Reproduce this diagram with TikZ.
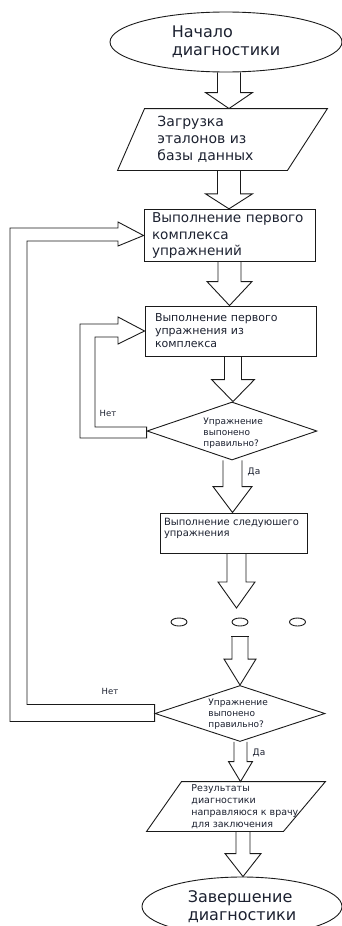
\documentclass[tikz,border=0pt]{standalone}
\usepackage{fontspec}
\setmainfont{DejaVu Sans}
\usepackage{tikz}
\usetikzlibrary{shapes.geometric,calc}
\definecolor{FlowInk}{HTML}{1C2130}
\definecolor{FlowLine}{HTML}{1A1A1A}

\newcommand{\fatdown}[6]{%
  \draw let \p1=(#1,0 |- #2), \p2=(#1,0 |- #3) in
    (\x1-#4pt,\y1) -- (\x1-#4pt,\y2+#6pt) -- (\x1-#5pt,\y2+#6pt) -- (\p2)
    -- (\x1+#5pt,\y2+#6pt) -- (\x1+#4pt,\y2+#6pt) -- (\x1+#4pt,\y1);}

\begin{document}
\begin{tikzpicture}[x=1pt,y=-1pt,line width=0.9pt,draw=FlowLine,
  every node/.style={text=FlowInk},
  term/.style={draw=FlowLine,ellipse,inner sep=0pt,align=left},
  proc/.style={draw=FlowLine,rectangle,align=left},
  io/.style={rectangle,inner sep=0pt},
  decision/.style={draw=FlowLine,diamond,inner sep=0pt},
  txt/.style={inner sep=0pt,align=left,anchor=west},
  dot/.style={draw=FlowLine,ellipse,inner sep=0pt,minimum width=16,minimum height=8}]
  \useasboundingbox (0,0) rectangle (342,926);

  \node[term,minimum width=232,minimum height=60,font=\fontsize{16}{18}\selectfont]
    (start) at (226,42) {Начало\\диагностики};
  \node[io,minimum width=209,minimum height=61] (load) at (222.5,139.5) {};
  \draw (load.south west) -- ([xshift=27]load.north west) -- (load.north east)
    -- ([xshift=-40]load.south east) -- cycle;
  \node[txt,font=\fontsize{14}{17}\selectfont] (load-t) at (157,139.5)
    {Загрузка\\эталонов из\\базы данных};
  \node[proc,minimum width=171,minimum height=51,text width=155,inner xsep=8,
    font=\fontsize{13.6}{16.5}\selectfont] (ex1) at (229.5,235.5)
    {Выполнение первого\\комплекса\\упражнений};
  \node[proc,minimum width=171,minimum height=50,text width=151,inner xsep=10,
    font=\fontsize{11}{13}\selectfont] (ex2) at (230.5,331)
    {Выполнение первого\\упражнения из\\комплекса};
  \node[decision,minimum width=170,minimum height=58] (chk1) at (232,431) {};
  \node[txt,font=\fontsize{9}{11}\selectfont] (chk1-t) at (203,433)
    {Упражнение\\выпонено\\правильно?};
  \node[proc,minimum width=147,minimum height=40,text width=139,inner xsep=4,
    font=\fontsize{10}{11}\selectfont] (ex3) at (233.5,533)
    {Выполнение следуюшего\\упражнения\\~};
  \node[dot] (d1) at (179,622) {};
  \node[dot] (d2) at (240,622) {};
  \node[dot] (d3) at (297.5,622) {};
  \coordinate (gapA) at (236.5,608);
  \coordinate (gapB) at (239,636);
  \node[decision,minimum width=170,minimum height=56] (chk2) at (240,713.5) {};
  \node[txt,font=\fontsize{9}{11}\selectfont] (chk2-t) at (208,714)
    {Упражнение\\выпонено\\правильно?};
  \node[io,minimum width=178,minimum height=49] (res) at (236,806.5) {};
  \draw (res.south west) -- ([xshift=35]res.north west) -- (res.north east)
    -- ([xshift=-42]res.south east) -- cycle;
  \node[txt,font=\fontsize{9.5}{12}\selectfont] (res-t) at (191,807)
    {Результаты\\диагностики\\направляюся к врачу\\для заключения};
  \node[term,minimum width=200,minimum height=59,font=\fontsize{16}{18}\selectfont]
    (finish) at (242,906.5) {Завершение\\диагностики};

  \fatdown{229}{start.south}{load.north}{11.5}{23.5}{16}
  \fatdown{229}{load.south}{ex1.north}{11.5}{23.5}{15}
  \fatdown{229.5}{ex1.south}{ex2.north}{11.5}{22.5}{24}
  \fatdown{233}{ex2.south}{chk1.north}{8.5}{21.5}{22}
  \fatdown{232.5}{chk1.south}{ex3.north}{9.5}{19.5}{26}
  \fatdown{236.5}{ex3.south}{gapA}{9.5}{18.5}{26}
  \fatdown{240}{gapB}{chk2.north}{8}{16}{26}
  \draw (231,636) -- (249,636);
  \fatdown{240.5}{chk2.south}{res.north}{6.5}{12}{20}
  \fatdown{243}{res.south}{finish.north}{7}{18}{23}

  \draw (ex1.west) -- (118,222) -- (118,228) -- (10,228)
    |- ([yshift=-8]chk2.west) -- ([yshift=9]chk2.west) -| (27,241)
    -- (118,241) -- (118,246) -- cycle;
  \draw (ex2.west) -- (118,317) -- (118,324) -- (80,324)
    |- ([yshift=-7]chk1.west) -- ([yshift=4]chk1.west) -| (95,337)
    -- (118,337) -- (118,344) -- cycle;

  \node[font=\fontsize{8.5}{10}\selectfont] (no1) at (108,413) {Нет};
  \node[font=\fontsize{8.5}{10}\selectfont] (no2) at (110,691) {Нет};
  \node[font=\fontsize{9}{10}\selectfont] (yes1) at (254,472) {Да};
  \node[font=\fontsize{9}{10}\selectfont] (yes2) at (259,753) {Да};
\end{tikzpicture}
\end{document}
